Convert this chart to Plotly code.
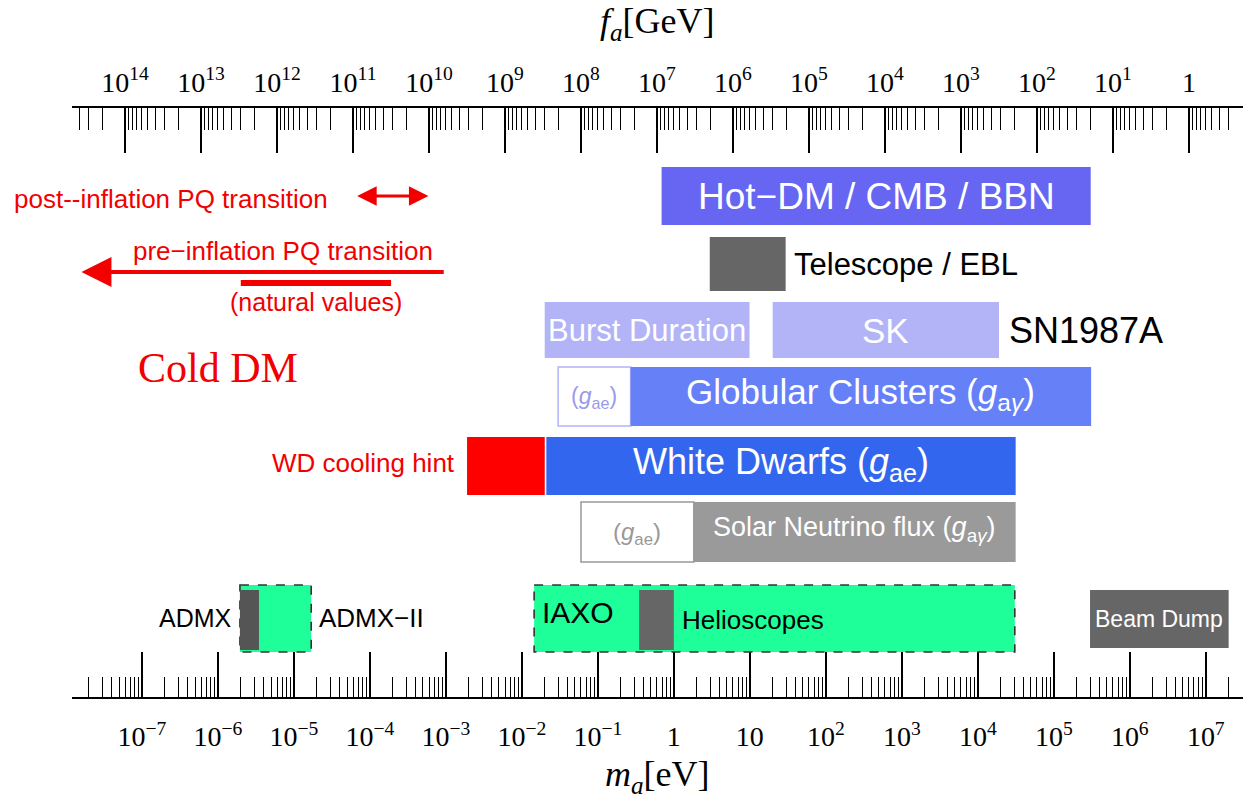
import numpy as np
import plotly.graph_objects as go

# ---------------- data : axion mass ranges in eV ----------------
BAND_NAMES = ["Hot-DM / CMB / BBN", "Telescope / EBL", "Burst Duration", "SK",
              "GC (g_ae)", "Globular Clusters", "WD cooling hint", "White Dwarfs",
              "Solar (g_ae)", "Solar Neutrino flux", "ADMX-II", "ADMX",
              "IAXO", "Helioscopes", "Beam Dump"]
BAND_MA_LOW = [0.69, 2.97, 0.020, 20.0, 0.030, 0.27, 1.9e-3, 0.021,
               0.060, 1.83, 1.95e-6, 1.95e-6, 0.0145, 0.35, 3.0e5]
BAND_MA_HIGH = [3.06e5, 29.6, 9.9, 1.9e4, 0.27, 3.1e5, 0.020, 3.15e4,
                1.83, 3.15e4, 1.69e-5, 3.47e-6, 3.07e4, 1.0, 2.0e7]

POST_INFLATION_MA = [6.5e-5, 5.9e-4]      # double arrow
PRE_INFLATION_MA = [9.8e-4, 1.6e-8]       # start -> arrow tip
NATURAL_VALUES_MA = [2.0e-6, 1.9e-4]
COLD_DM_MA = 1.0e-6

FA_TIMES_MA = 6.0e6                       # f_a[GeV] * m_a[eV]

MA_TICK_EXP = list(range(-7, 8))
MA_TICK_TEXT = ["10<sup>−7</sup>", "10<sup>−6</sup>", "10<sup>−5</sup>", "10<sup>−4</sup>",
                "10<sup>−3</sup>", "10<sup>−2</sup>", "10<sup>−1</sup>", "1", "10",
                "10<sup>2</sup>", "10<sup>3</sup>", "10<sup>4</sup>", "10<sup>5</sup>",
                "10<sup>6</sup>", "10<sup>7</sup>"]
FA_TICK_EXP = list(range(14, -1, -1))
FA_TICK_TEXT = ["10<sup>14</sup>", "10<sup>13</sup>", "10<sup>12</sup>", "10<sup>11</sup>",
                "10<sup>10</sup>", "10<sup>9</sup>", "10<sup>8</sup>", "10<sup>7</sup>",
                "10<sup>6</sup>", "10<sup>5</sup>", "10<sup>4</sup>", "10<sup>3</sup>",
                "10<sup>2</sup>", "10<sup>1</sup>", "1"]

# ---------------- layout / styles ----------------
W, H = 1243, 799
ML, MR, MT, MB = 72, 0, 108, 102
X_RANGE = [-7.92, 7.49]                 # log10(m_a / eV)
LOGC = np.log10(FA_TIMES_MA)
X2_RANGE = [LOGC - X_RANGE[0], LOGC - X_RANGE[1]]

SANS = "Liberation Sans, Arial, sans-serif"
SERIF = "Liberation Serif, Times New Roman, serif"
RED = "#F20000"

# y coordinate = image pixel row
ROWS = {"hot": (167, 225), "tel": (237, 291), "sn": (302, 358), "gc": (367, 426),
        "wd": (437, 495), "sol": (502, 562), "exp": (585, 652), "expin": (590, 650),
        "beam": (590, 648)}

STYLE = {
    "Hot-DM / CMB / BBN": dict(row="hot", fill="#6666F2", text="Hot−DM / CMB / BBN",
                               tc="white", size=37, mode="center", ty=196),
    "Telescope / EBL": dict(row="tel", fill="#666666", text="Telescope / EBL",
                            tc="black", size=31, mode="right_out", ty=264, dx=6),
    "Burst Duration": dict(row="sn", fill="#B3B3F8", text="Burst Duration",
                           tc="white", size=31, mode="center", ty=330),
    "SK": dict(row="sn", fill="#B3B3F8", text="SK", tc="white", size=35,
               mode="center", ty=330, extra=("SN1987A", 8, 36)),
    "GC (g_ae)": dict(row="gc", fill="white", lc="#B3B3F8", lw=1.5,
                      text="(<i>g</i><sub>ae</sub>)", tc="#9A9AEA", size=23,
                      mode="center", ty=397),
    "Globular Clusters": dict(row="gc", fill="#6680F8",
                              text="Globular Clusters (<i>g</i><sub>a<i>γ</i></sub>)",
                              tc="white", size=35, mode="center", ty=394),
    "WD cooling hint": dict(row="wd", fill="#FF0000", text="WD cooling hint",
                            tc=RED, size=26, mode="left_out", ty=463, dx=-10),
    "White Dwarfs": dict(row="wd", fill="#3366EE",
                         text="White Dwarfs (<i>g</i><sub>ae</sub>)",
                         tc="white", size=36, mode="center", ty=464),
    "Solar (g_ae)": dict(row="sol", fill="white", lc="#999999", lw=1.5,
                         text="(<i>g</i><sub>ae</sub>)", tc="#999999", size=24,
                         mode="center", ty=533),
    "Solar Neutrino flux": dict(row="sol", fill="#9A9A9A",
                                text="Solar Neutrino flux (<i>g</i><sub>a<i>γ</i></sub>)",
                                tc="white", size=27, mode="center", ty=529),
    "ADMX-II": dict(row="exp", fill="#1EFF99", lc="#333333", lw=1.6, dash="dash",
                    text="ADMX−II", tc="black", size=26, mode="right_out", ty=618, dx=6),
    "ADMX": dict(row="expin", fill="#555555", text="ADMX", tc="black", size=25,
                 mode="left_out", ty=618, dx=-6),
    "IAXO": dict(row="exp", fill="#1EFF99", lc="#333333", lw=1.6, dash="dash",
                 text="IAXO", tc="black", size=30, mode="left_in", ty=612, dx=6),
    "Helioscopes": dict(row="expin", fill="#666666", text="Helioscopes", tc="black",
                        size=26, mode="right_out", ty=620, dx=6),
    "Beam Dump": dict(row="beam", fill="#666666", text="Beam Dump", tc="white",
                      size=23, mode="center", ty=619),
}

L = np.log10
fig = go.Figure()
fig.add_trace(go.Scatter(x=[], y=[], xaxis="x", yaxis="y", showlegend=False))
fig.add_trace(go.Scatter(x=[], y=[], xaxis="x2", yaxis="y", showlegend=False))

shapes, annos = [], []
for name, lo, hi in zip(BAND_NAMES, BAND_MA_LOW, BAND_MA_HIGH):
    st = STYLE[name]
    y0, y1 = ROWS[st["row"]]
    shapes.append(dict(type="rect", xref="x", yref="y", x0=L(lo), x1=L(hi), y0=y0, y1=y1,
                       fillcolor=st["fill"], layer="above",
                       line=dict(color=st.get("lc", st["fill"]), width=st.get("lw", 0),
                                 dash=st.get("dash", "solid"))))
    mode = st["mode"]
    if mode == "center":
        x, xa, dx = (L(lo) + L(hi)) / 2, "center", 0
    elif mode == "right_out":
        x, xa, dx = L(hi), "left", st["dx"]
    elif mode == "left_out":
        x, xa, dx = L(lo), "right", st["dx"]
    else:
        x, xa, dx = L(lo), "left", st["dx"]
    annos.append(dict(x=x, y=st["ty"], xref="x", yref="y", text=st["text"], showarrow=False,
                      xanchor=xa, yanchor="middle", xshift=dx,
                      font=dict(family=SANS, size=st["size"], color=st["tc"])))
    if "extra" in st:
        t, sh, sz = st["extra"]
        annos.append(dict(x=L(hi), y=st["ty"], xref="x", yref="y", text=t, showarrow=False,
                          xanchor="left", yanchor="middle", xshift=sh,
                          font=dict(family=SANS, size=sz, color="black")))

# red PQ annotations
annos.append(dict(x=L(POST_INFLATION_MA[1]), y=196, ax=L(POST_INFLATION_MA[0]), ay=196,
                  xref="x", yref="y", axref="x", ayref="y", text="", showarrow=True,
                  arrowside="end+start", arrowhead=2, arrowsize=1.3, arrowwidth=3,
                  arrowcolor=RED))
annos.append(dict(x=L(POST_INFLATION_MA[0]), y=199, xref="x", yref="y",
                  text="post--inflation PQ transition", showarrow=False, xanchor="right",
                  yanchor="middle", xshift=-26, font=dict(family=SANS, size=26, color=RED)))
annos.append(dict(x=L(PRE_INFLATION_MA[1]), y=272, ax=L(PRE_INFLATION_MA[0]), ay=272,
                  xref="x", yref="y", axref="x", ayref="y", text="", showarrow=True,
                  arrowhead=2, arrowsize=1.5, arrowwidth=4, arrowcolor=RED))
annos.append(dict(x=L(PRE_INFLATION_MA[0]), y=251, xref="x", yref="y",
                  text="pre−inflation PQ transition", showarrow=False, xanchor="right",
                  yanchor="middle", xshift=-10, font=dict(family=SANS, size=26, color=RED)))
shapes.append(dict(type="line", xref="x", yref="y", x0=L(NATURAL_VALUES_MA[0]),
                   x1=L(NATURAL_VALUES_MA[1]), y0=283, y1=283, layer="above",
                   line=dict(color=RED, width=6)))
annos.append(dict(x=(L(NATURAL_VALUES_MA[0]) + L(NATURAL_VALUES_MA[1])) / 2, y=302,
                  xref="x", yref="y", text="(natural values)", showarrow=False,
                  yanchor="middle", font=dict(family=SANS, size=25, color=RED)))
annos.append(dict(x=L(COLD_DM_MA), y=368, xref="x", yref="y", text="Cold DM",
                  showarrow=False, yanchor="middle",
                  font=dict(family=SERIF, size=42, color=RED)))

# axis titles
pw, ph = W - ML - MR, H - MT - MB
annos.append(dict(x=(657 - ML) / pw, y=(H - MB - 24) / ph, xref="paper", yref="paper",
                  text="<i>f</i><sub><i>a</i></sub>[GeV]", showarrow=False,
                  xanchor="center", yanchor="middle",
                  font=dict(family=SERIF, size=36, color="black")))
annos.append(dict(x=(657 - ML) / pw, y=(H - MB - 776) / ph, xref="paper", yref="paper",
                  text="<i>m</i><sub><i>a</i></sub>[eV]", showarrow=False,
                  xanchor="center", yanchor="middle",
                  font=dict(family=SERIF, size=36, color="black")))


def minor_vals(lo, hi):
    out = []
    for n in range(int(np.floor(min(lo, hi))) - 1, int(np.ceil(max(lo, hi))) + 1):
        for k in range(2, 10):
            v = n + np.log10(k)
            if min(lo, hi) <= v <= max(lo, hi):
                out.append(v)
    return out


axis_common = dict(showgrid=False, zeroline=False, showline=True, linecolor="black",
                   linewidth=1.5, ticks="inside", ticklen=45, tickwidth=1.5,
                   tickcolor="black", tickmode="array",
                   tickfont=dict(family=SERIF, size=28, color="black"))

fig.update_layout(
    width=W, height=H, margin=dict(l=ML, r=MR, t=MT, b=MB),
    paper_bgcolor="white", plot_bgcolor="white", showlegend=False,
    xaxis=dict(range=X_RANGE, tickvals=MA_TICK_EXP, ticktext=MA_TICK_TEXT,
               minor=dict(tickmode="array", tickvals=minor_vals(*X_RANGE), ticks="inside",
                          ticklen=20, tickwidth=1.3, tickcolor="black"),
               anchor="y", side="bottom", ticklabelstandoff=14, **axis_common),
    xaxis2=dict(range=X2_RANGE, tickvals=FA_TICK_EXP, ticktext=FA_TICK_TEXT,
                minor=dict(tickmode="array", tickvals=minor_vals(*X2_RANGE), ticks="inside",
                           ticklen=22, tickwidth=1.3, tickcolor="black"),
                overlaying="x", anchor="y", side="top", ticklabelstandoff=3, **axis_common),
    yaxis=dict(range=[H - MB, MT], visible=False, fixedrange=True),
    shapes=shapes, annotations=annos,
)

fig.write_html("out.html")
